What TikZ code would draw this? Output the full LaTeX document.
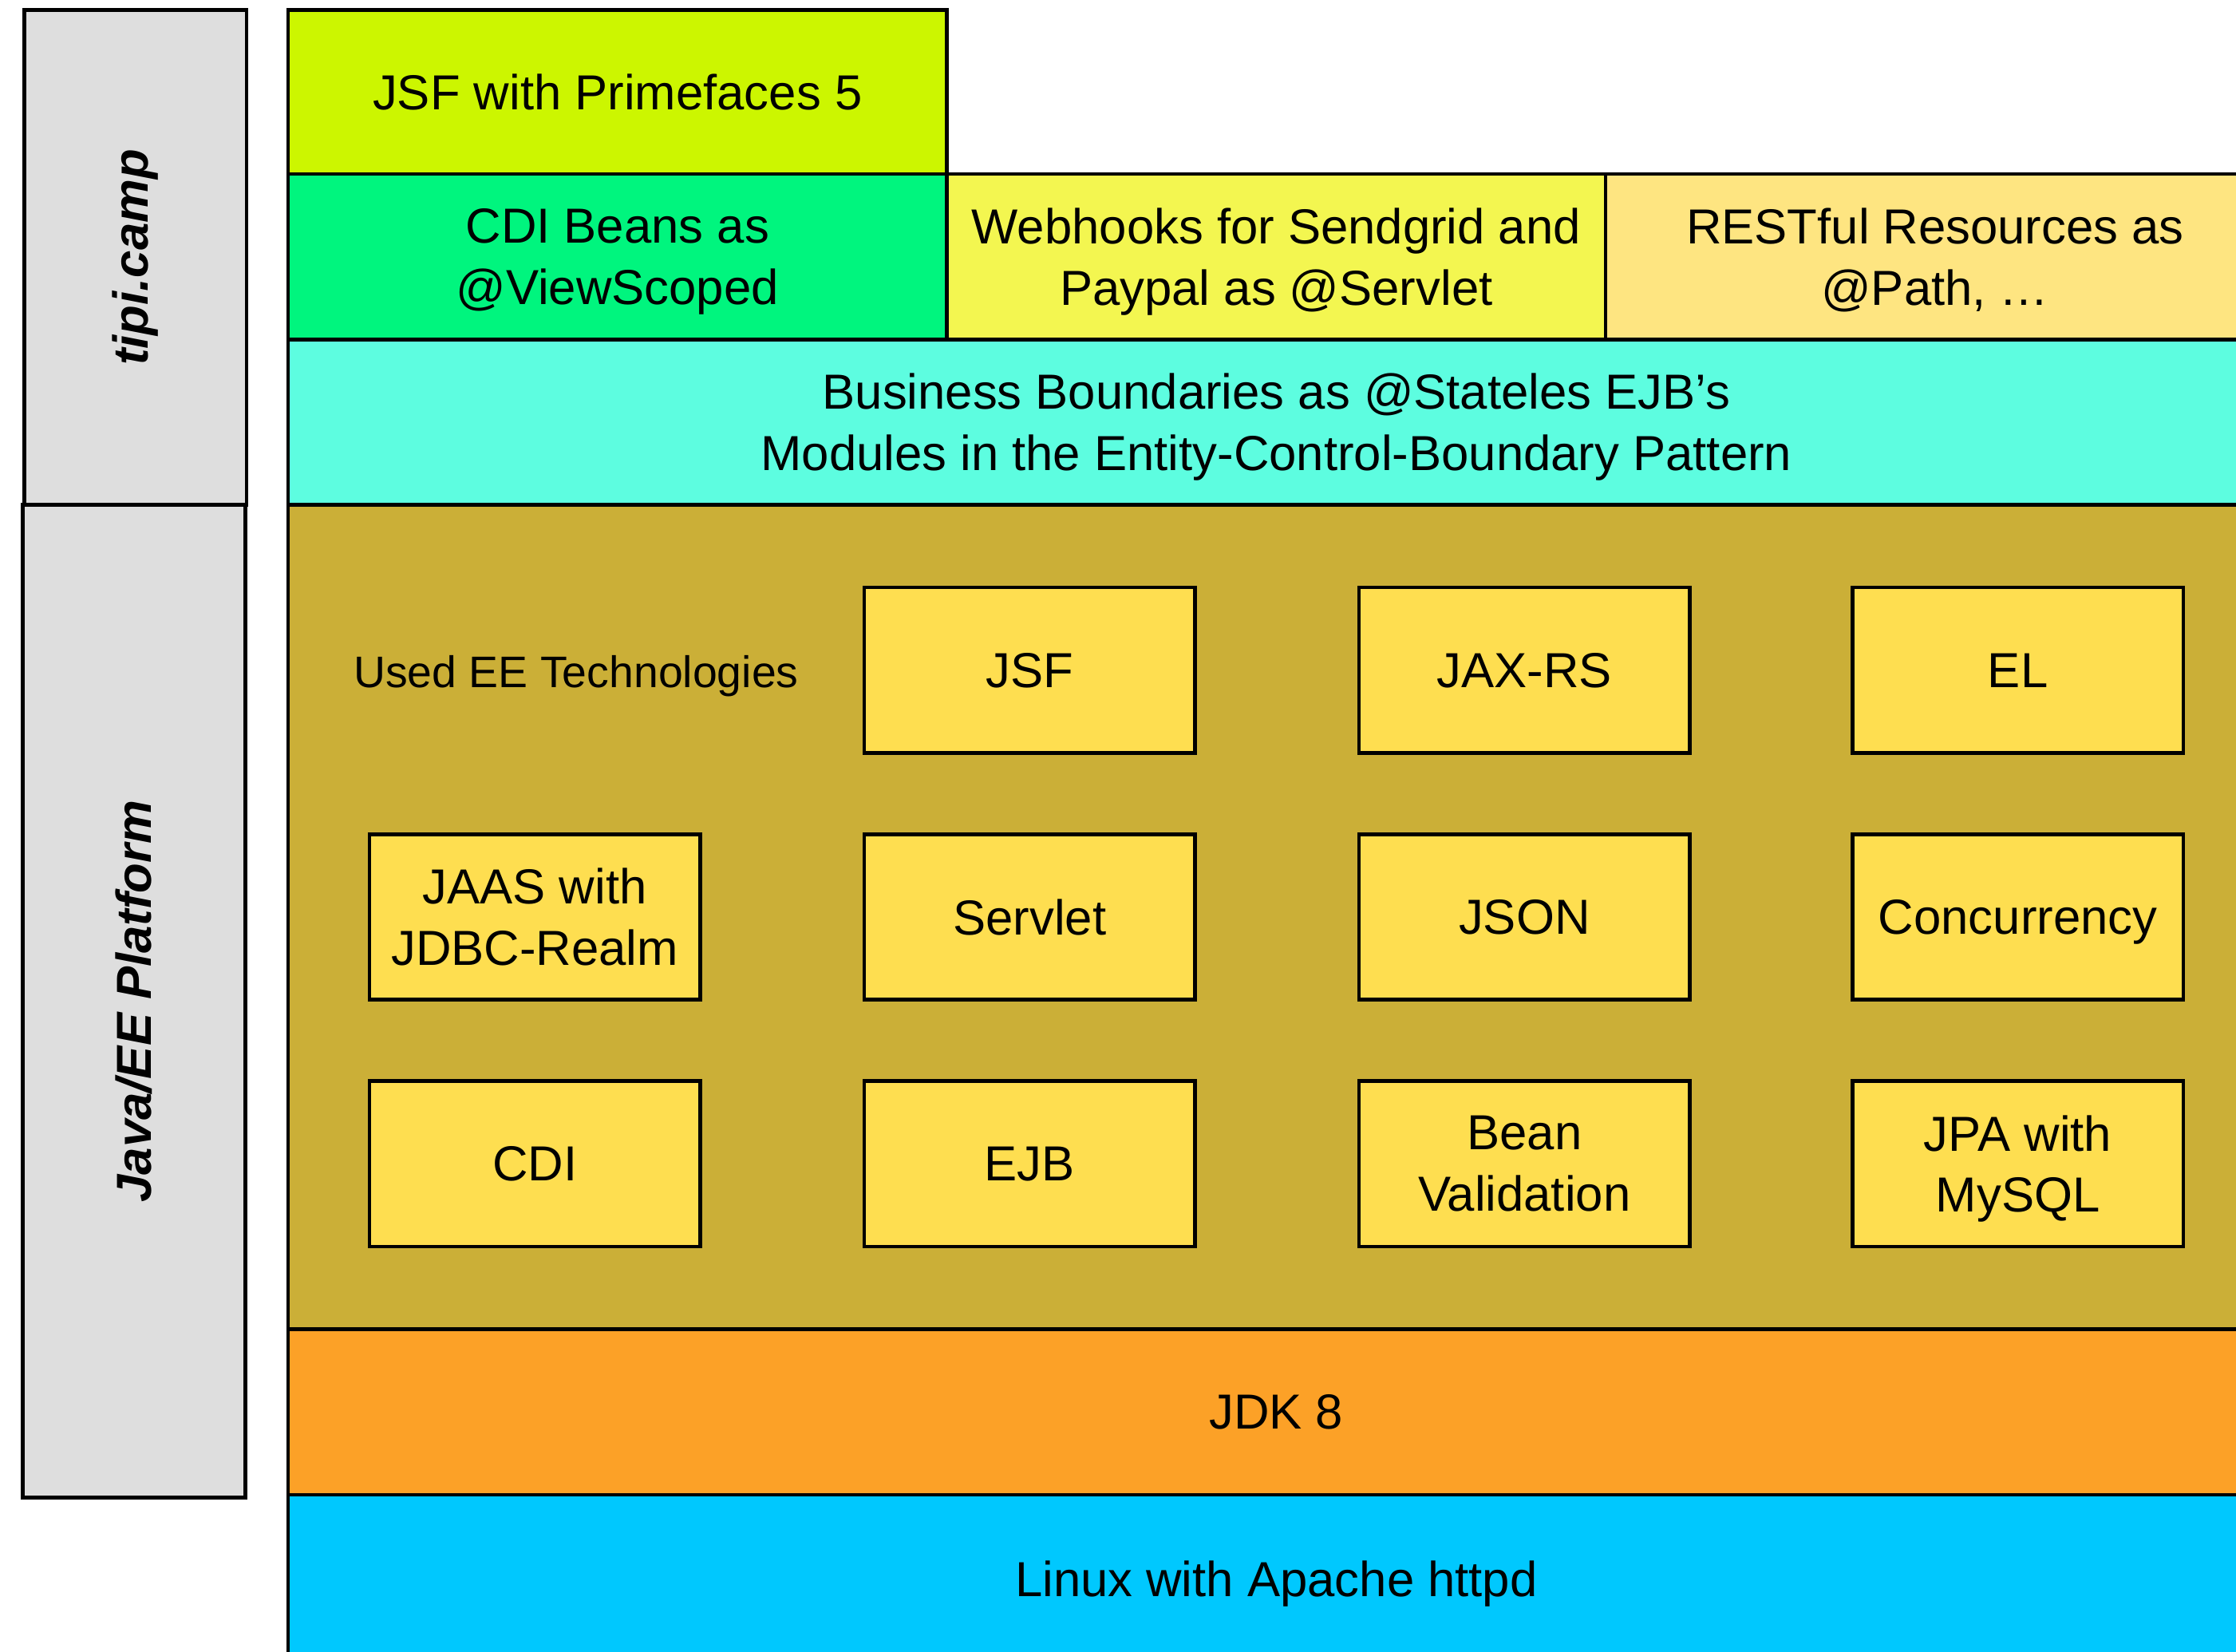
\documentclass[tikz,border=0pt]{standalone}
\usepackage{fontspec}
\setmainfont{Liberation Sans}
\definecolor{jsfgreen}{HTML}{CCF600}
\definecolor{cdigreen}{HTML}{00F57E}
\definecolor{hookyellow}{HTML}{F3F650}
\definecolor{restyellow}{HTML}{FEE581}
\definecolor{bizcyan}{HTML}{5DFDE0}
\definecolor{eebrown}{HTML}{CBAF37}
\definecolor{jdkorange}{HTML}{FCA127}
\definecolor{linuxblue}{HTML}{00C8FE}
\definecolor{techyellow}{HTML}{FEDE50}
\definecolor{sidegrey}{HTML}{DEDEDE}
\newcommand{\fs}{\fontsize{34.5}{43}\selectfont}
\tikzset{
  layer/.style={draw, line width=2.5pt, inner sep=0pt, align=center, font=\fs, text depth=0pt},
  tech/.style={layer, fill=techyellow, minimum width=232pt, minimum height=116pt},
  side/.style={layer, fill=sidegrey, minimum width=156pt}
}

\begin{document}
\begin{tikzpicture}[x=1pt,y=-1pt]
\useasboundingbox (0,0) rectangle (1568,1158);
\clip (0,0) rectangle (1568,1158);
% side bar
\node[side, minimum height=347pt] (tipi) at (95,180.5) {};
\node[side, minimum height=696pt] (javaee) at (94,702) {};
\node[rotate=90, font=\fs\bfseries\itshape] (tipilabel) at (tipi) {tipi.camp};
\node[rotate=90, font=\fs\bfseries\itshape] (javaeelabel) at (javaee) {Java/EE Platform};
% stack
\node[layer, fill=eebrown, minimum width=1386pt, minimum height=578pt] (ee) at (895,643) {};
\node[layer, fill=jdkorange, minimum width=1386pt, minimum height=116pt] (jdk) at (895,990) {JDK 8};
\node[layer, fill=linuxblue, minimum width=1386pt, minimum height=140pt] (linux) at (895,1118) {};
\node[font=\fs, text depth=0pt] (linuxlabel) at (895,1107) {Linux with Apache httpd};
\node[layer, fill=bizcyan, minimum width=1386pt, minimum height=116pt] (biz) at (895,296)
  {Business Boundaries as @Stateles EJB’s\\Modules in the Entity-Control-Boundary Pattern};
\node[layer, fill=cdigreen, minimum width=462pt, minimum height=116pt] (cdi) at (433,180)
  {CDI Beans as\\@ViewScoped};
\node[layer, fill=hookyellow, minimum width=462pt, minimum height=116pt] (hooks) at (895,180)
  {Webhooks for Sendgrid and\\Paypal as @Servlet};
\node[layer, fill=restyellow, minimum width=462pt, minimum height=116pt] (rest) at (1357,180)
  {RESTful Resources as\\@Path, …};
\node[layer, fill=jsfgreen, minimum width=462pt, minimum height=115pt] (jsf) at (433,64.5)
  {JSF with Primefaces 5};
% used technologies
\node[font=\fontsize{31}{40}\selectfont, text depth=0pt] (used) at (404,471) {Used EE Technologies};
\node[tech] (jsftech) at (722,470) {JSF};
\node[tech] (jaxrs) at (1069,470) {JAX-RS};
\node[tech] (el) at (1415,470) {EL};
\node[tech] (jaas) at (375,643) {JAAS with\\JDBC-Realm};
\node[tech] (servlet) at (722,643) {Servlet};
\node[tech] (json) at (1069,643) {JSON};
\node[tech] (conc) at (1415,643) {Concurrency};
\node[tech] (cditech) at (375,816) {CDI};
\node[tech] (ejb) at (722,816) {EJB};
\node[tech] (bval) at (1069,816) {Bean\\Validation};
\node[tech] (jpa) at (1415,816) {JPA with\\MySQL};
\end{tikzpicture}
\end{document}
